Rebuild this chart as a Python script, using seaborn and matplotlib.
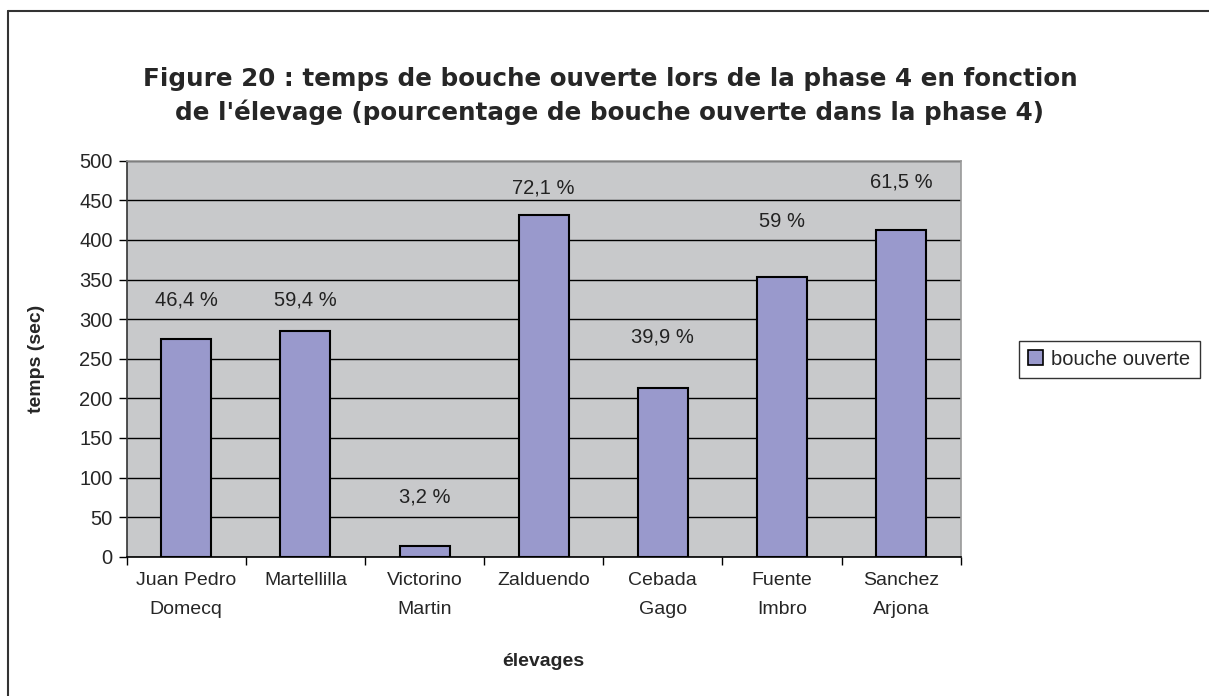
import pandas as pd
import seaborn as sns
import matplotlib.pyplot as plt
from matplotlib.patches import Patch
from matplotlib.lines import Line2D

elevages = ['Juan Pedro\nDomecq', 'Martellilla', 'Victorino\nMartin', 'Zalduendo',
            'Cebada\nGago', 'Fuente\nImbro', 'Sanchez\nArjona']
temps = [275, 285, 14, 432, 213, 353, 412]
pourcentages = ['46,4 %', '59,4 %', '3,2 %', '72,1 %', '39,9 %', '59 %', '61,5 %']
# hauteur (en sec) ou sont posees les etiquettes de pourcentage
label_y = [324, 324, 75, 466, 278, 423, 473]
y_ticks = [0, 50, 100, 150, 200, 250, 300, 350, 400, 450, 500]

df = pd.DataFrame({'elevage': elevages, 'temps': temps})

sns.set_style('white')
plt.rcParams['font.family'] = ['Liberation Sans', 'DejaVu Sans']

bar_color = '#9999CC'

fig = plt.figure(figsize=(12.09, 6.96), dpi=100)
ax = fig.add_axes([0.1048, 0.2001, 0.6898, 0.569])
ax.set_facecolor('#C8C9CB')

sns.barplot(data=df, x='elevage', y='temps', color=bar_color, saturation=1,
            edgecolor='black', linewidth=1.5, width=0.42, ax=ax, zorder=3)

for i, (txt, yy) in enumerate(zip(pourcentages, label_y)):
    ax.text(i, yy, txt, ha='center', va='center', fontsize=14.5, color='#222222', zorder=4)

ax.set_ylim(0, 500)
ax.set_xlim(-0.5, len(elevages) - 0.5)
ax.set_yticks(y_ticks)
ax.yaxis.grid(True, color='black', linewidth=1)
ax.set_axisbelow(True)
ax.tick_params(axis='y', length=6, width=1, color='black', labelsize=14.5, pad=4, left=True)
ax.set_xticks(range(len(elevages)))
ax.set_xticklabels(elevages, fontsize=14, linespacing=1.95)
ax.tick_params(axis='x', length=0, pad=11)
ax.set_xticks([i - 0.5 for i in range(len(elevages) + 1)], minor=True)
ax.tick_params(axis='x', which='minor', length=6, width=1, color='black', bottom=True)

for side in ['top', 'right']:
    ax.spines[side].set_color('#999999')
ax.spines['left'].set_color('#333333')
ax.spines['bottom'].set_color('black')
for s in ax.spines.values():
    s.set_linewidth(1.2)

ax.set_xlabel('élevages', fontsize=14, fontweight='bold', labelpad=25)
ax.set_ylabel('temps (sec)', fontsize=14, fontweight='bold', labelpad=25)

fig.text(0.5045, 0.862, "Figure 20 : temps de bouche ouverte lors de la phase 4 en fonction\n"
         "de l'élevage (pourcentage de bouche ouverte dans la phase 4)",
         ha='center', va='center', fontsize=17.7, fontweight='bold', linespacing=1.4,
         family=['DejaVu Sans'])

handle = Patch(facecolor=bar_color, edgecolor='black', linewidth=1.2)
leg = fig.legend([handle], ['bouche ouverte'], loc='center left',
                 bbox_to_anchor=(0.843, 0.484), fontsize=14.5, frameon=True,
                 fancybox=False, edgecolor='black', handlelength=0.75, handleheight=0.75,
                 handletextpad=0.4, borderpad=0.45, borderaxespad=0)
leg.get_frame().set_linewidth(1)

# cadre du graphique (coin superieur gauche)
fig.add_artist(Line2D([8 / 1209, 8 / 1209], [0, 1 - 11 / 696], color='#333333', linewidth=1.5))
fig.add_artist(Line2D([8 / 1209, 1], [1 - 11 / 696, 1 - 11 / 696], color='#333333', linewidth=1.5))

fig.savefig('out.png', dpi=100)
plt.close()
